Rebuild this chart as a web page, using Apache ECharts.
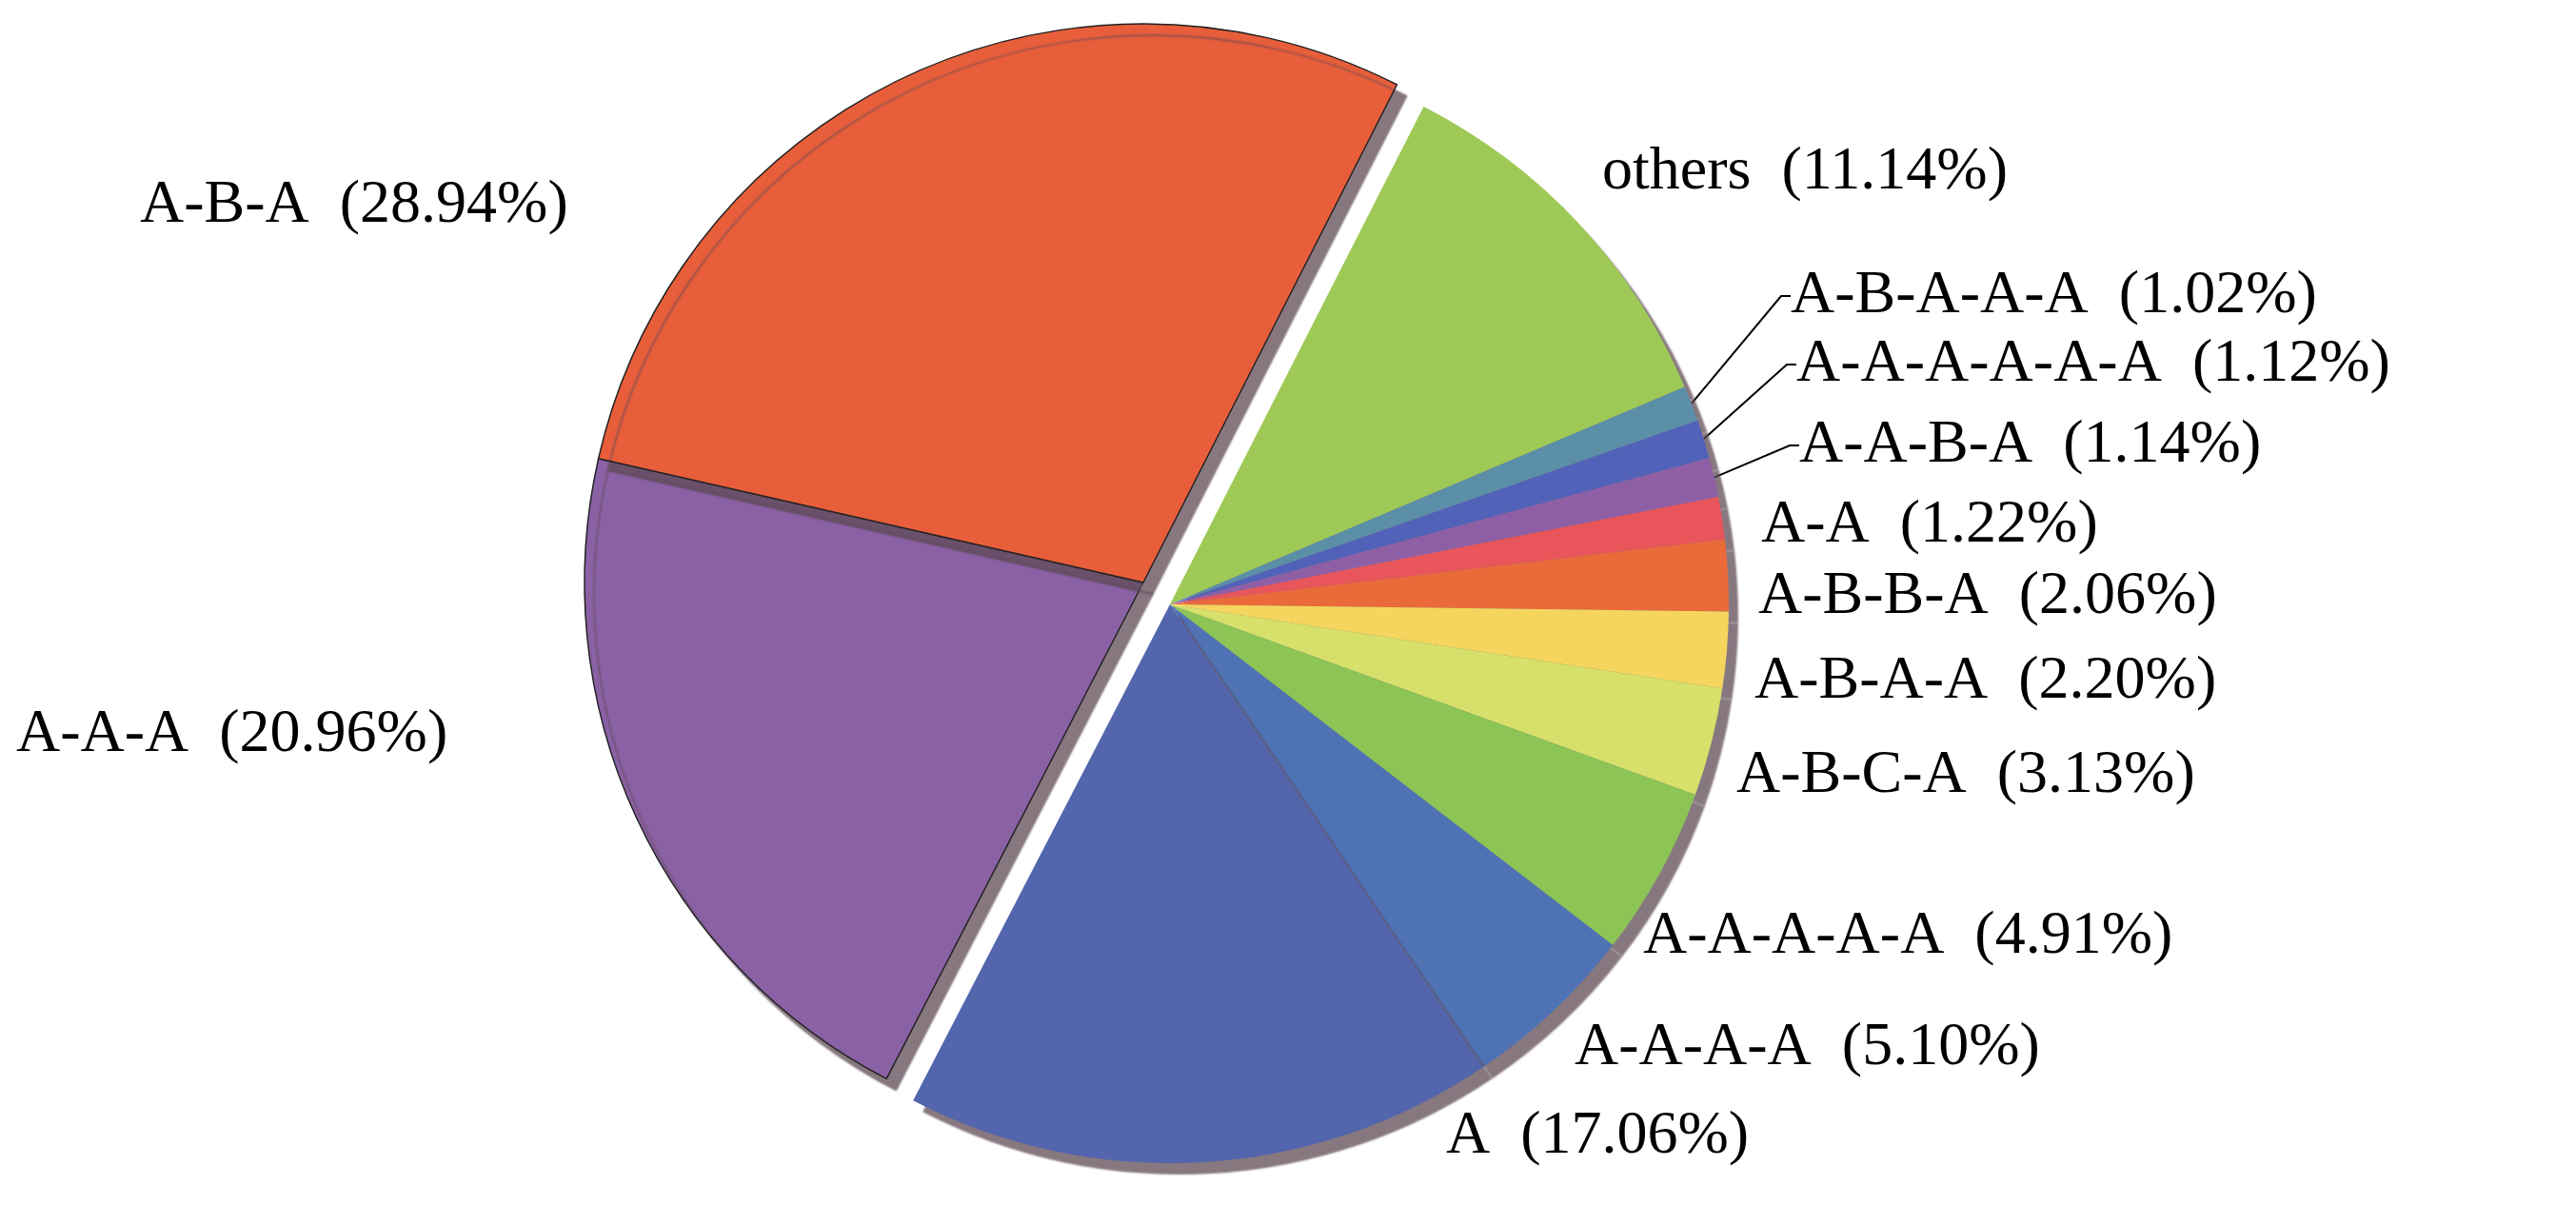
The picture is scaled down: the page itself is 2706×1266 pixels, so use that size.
<!DOCTYPE html>
<html>
<head>
<meta charset="utf-8">
<script src="https://cdn.jsdelivr.net/npm/echarts@6/dist/echarts.min.js"></script>
<style>html,body{margin:0;padding:0;background:#fff}#chart{width:2706px;height:1266px}</style>
</head>
<body>
<div id="chart"></div>
<script>
// 数据（顺时针，从缺口上端开始）
var names = ['others', 'A-B-A-A-A', 'A-A-A-A-A-A', 'A-A-B-A', 'A-A', 'A-B-B-A', 'A-B-A-A', 'A-B-C-A', 'A-A-A-A-A', 'A-A-A-A', 'A', 'A-A-A', 'A-B-A'];
var values = [11.14, 1.02, 1.12, 1.14, 1.22, 2.06, 2.20, 3.13, 4.91, 5.10, 17.06, 20.96, 28.94];
var colors = ['#9ec956', '#5b8fa8', '#5262b8', '#8f5fa6', '#e8555a', '#eb6a3a', '#f5d55e', '#d6e06a', '#8cc456', '#4f72b5', '#5265ad', '#8b61a6', '#e85e3b'];
var exploded = ['A-A-A', 'A-B-A'];
var withLine = ['A-B-A-A-A', 'A-A-A-A-A-A', 'A-A-B-A'];

// 标签位置（左边缘, 垂直中心）
var labelPos = [[1683, 181], [1881, 311], [1887, 383], [1890, 468], [1850, 552], [1847, 627], [1843, 716],
     [1824, 815], [1726, 984], [1654, 1101], [1519, 1194], [17, 772], [147, 216]];

var chart = echarts.init(document.getElementById('chart'));

function buildData(group) {
     var list = [];
     for (var i = 0; i < names.length; i++) {
          var inGroup = (exploded.indexOf(names[i]) >= 0) === group;
          list.push({
               name: names[i],
               value: values[i],
               itemStyle: inGroup ? { color: colors[i] } : { color: 'transparent', shadowColor: 'transparent', borderWidth: 0 },
               label: { show: inGroup },
               labelLine: { show: inGroup && withLine.indexOf(names[i]) >= 0 }
          });
     }
     return list;
}

function makeSeries(group, center) {
     return {
          type: 'pie',
          center: center,
          radius: 587,
          startAngle: 63,
          clockwise: true,
          avoidLabelOverlap: false,
          silent: true,
          data: buildData(group),
          itemStyle: {
               borderColor: group ? '#222' : 'transparent',
               borderWidth: group ? 1.5 : 0,
               shadowColor: 'rgba(95,75,85,0.75)',
               shadowBlur: 2,
               shadowOffsetX: 10,
               shadowOffsetY: 12
          },
          label: {
               position: 'outside',
               fontFamily: 'Liberation Serif',
               fontSize: 64,
               color: '#000',
               formatter: function (p) { return p.name + '  (' + p.value.toFixed(2) + '%)'; }
          },
          labelLine: { show: true, length: 10, length2: 10, lineStyle: { color: '#000', width: 2 } },
          labelLayout: function (p) {
               var pos = labelPos[p.dataIndex];
               return { x: pos[0], y: pos[1], align: 'left', verticalAlign: 'middle' };
          }
     };
}

chart.setOption({
     backgroundColor: '#fff',
     animation: false,
     series: [
          makeSeries(false, [1229, 635]),
          makeSeries(true, [1201, 612])
     ]
});
</script>
</body>
</html>
